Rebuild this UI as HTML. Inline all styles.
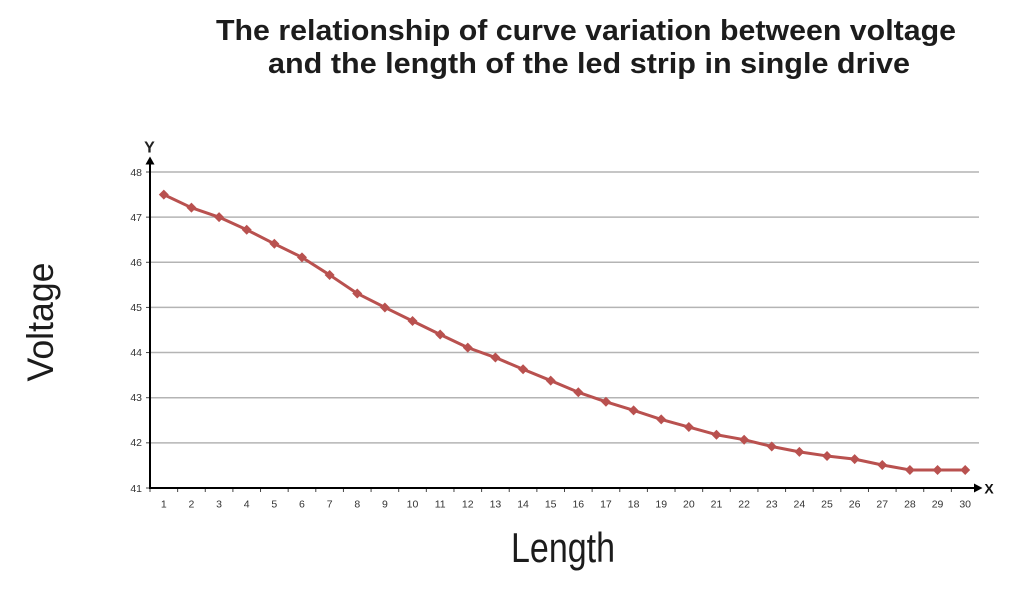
<!DOCTYPE html>
<html>
<head>
<meta charset="utf-8">
<style>
  html,body{margin:0;padding:0;background:#fff;}
  body{width:1024px;height:595px;overflow:hidden;}
  svg{display:block;}
  text{font-family:"Liberation Sans",sans-serif;}
</style>
</head>
<body>
<svg width="1024" height="595" viewBox="0 0 1024 595" xmlns="http://www.w3.org/2000/svg">
  <rect width="1024" height="595" fill="#fff"/>
  <!-- Title -->
  <text x="216" y="40" font-size="29" font-weight="bold" fill="#1c1c1c" textLength="740" lengthAdjust="spacingAndGlyphs">The relationship of curve variation between voltage</text>
  <text x="268" y="73" font-size="29" font-weight="bold" fill="#1c1c1c" textLength="642" lengthAdjust="spacingAndGlyphs">and the length of the led strip in single drive</text>

  <!-- Gridlines -->
  <g stroke="#b4b4b4" stroke-width="1.5">
    <line x1="150" y1="172" x2="979" y2="172"/>
    <line x1="150" y1="217.14" x2="979" y2="217.14"/>
    <line x1="150" y1="262.28" x2="979" y2="262.28"/>
    <line x1="150" y1="307.42" x2="979" y2="307.42"/>
    <line x1="150" y1="352.56" x2="979" y2="352.56"/>
    <line x1="150" y1="397.7" x2="979" y2="397.7"/>
    <line x1="150" y1="442.84" x2="979" y2="442.84"/>
  </g>

  <!-- Y tick marks -->
  <g stroke="#444" stroke-width="1">
    <line x1="146" y1="172" x2="150" y2="172"/>
    <line x1="146" y1="217.14" x2="150" y2="217.14"/>
    <line x1="146" y1="262.28" x2="150" y2="262.28"/>
    <line x1="146" y1="307.42" x2="150" y2="307.42"/>
    <line x1="146" y1="352.56" x2="150" y2="352.56"/>
    <line x1="146" y1="397.7" x2="150" y2="397.7"/>
    <line x1="146" y1="442.84" x2="150" y2="442.84"/>
    <line x1="146" y1="488" x2="150" y2="488"/>
  </g>

  <!-- Y tick labels -->
  <g font-size="10.5" fill="#333" text-anchor="end">
    <text x="142" y="176">48</text>
    <text x="142" y="221">47</text>
    <text x="142" y="266">46</text>
    <text x="142" y="311">45</text>
    <text x="142" y="356">44</text>
    <text x="142" y="401">43</text>
    <text x="142" y="446">42</text>
    <text x="142" y="492">41</text>
  </g>

  <!-- X tick marks -->
  <g stroke="#444" stroke-width="1">
    <line x1="150" y1="488" x2="150" y2="492"/>
    <line x1="177.63" y1="488" x2="177.63" y2="492"/>
    <line x1="205.27" y1="488" x2="205.27" y2="492"/>
    <line x1="232.9" y1="488" x2="232.9" y2="492"/>
    <line x1="260.53" y1="488" x2="260.53" y2="492"/>
    <line x1="288.17" y1="488" x2="288.17" y2="492"/>
    <line x1="315.8" y1="488" x2="315.8" y2="492"/>
    <line x1="343.43" y1="488" x2="343.43" y2="492"/>
    <line x1="371.07" y1="488" x2="371.07" y2="492"/>
    <line x1="398.7" y1="488" x2="398.7" y2="492"/>
    <line x1="426.33" y1="488" x2="426.33" y2="492"/>
    <line x1="453.97" y1="488" x2="453.97" y2="492"/>
    <line x1="481.6" y1="488" x2="481.6" y2="492"/>
    <line x1="509.23" y1="488" x2="509.23" y2="492"/>
    <line x1="536.87" y1="488" x2="536.87" y2="492"/>
    <line x1="564.5" y1="488" x2="564.5" y2="492"/>
    <line x1="592.13" y1="488" x2="592.13" y2="492"/>
    <line x1="619.77" y1="488" x2="619.77" y2="492"/>
    <line x1="647.4" y1="488" x2="647.4" y2="492"/>
    <line x1="675.03" y1="488" x2="675.03" y2="492"/>
    <line x1="702.67" y1="488" x2="702.67" y2="492"/>
    <line x1="730.3" y1="488" x2="730.3" y2="492"/>
    <line x1="757.93" y1="488" x2="757.93" y2="492"/>
    <line x1="785.57" y1="488" x2="785.57" y2="492"/>
    <line x1="813.2" y1="488" x2="813.2" y2="492"/>
    <line x1="840.83" y1="488" x2="840.83" y2="492"/>
    <line x1="868.47" y1="488" x2="868.47" y2="492"/>
    <line x1="896.1" y1="488" x2="896.1" y2="492"/>
    <line x1="923.73" y1="488" x2="923.73" y2="492"/>
    <line x1="951.37" y1="488" x2="951.37" y2="492"/>
  </g>

  <!-- X tick labels -->
  <g font-size="10.5" fill="#333" text-anchor="middle">
    <text x="163.82" y="507.5">1</text>
    <text x="191.45" y="507.5">2</text>
    <text x="219.08" y="507.5">3</text>
    <text x="246.72" y="507.5">4</text>
    <text x="274.35" y="507.5">5</text>
    <text x="301.98" y="507.5">6</text>
    <text x="329.62" y="507.5">7</text>
    <text x="357.25" y="507.5">8</text>
    <text x="384.88" y="507.5">9</text>
    <text x="412.52" y="507.5">10</text>
    <text x="440.15" y="507.5">11</text>
    <text x="467.78" y="507.5">12</text>
    <text x="495.42" y="507.5">13</text>
    <text x="523.05" y="507.5">14</text>
    <text x="550.68" y="507.5">15</text>
    <text x="578.32" y="507.5">16</text>
    <text x="605.95" y="507.5">17</text>
    <text x="633.58" y="507.5">18</text>
    <text x="661.22" y="507.5">19</text>
    <text x="688.85" y="507.5">20</text>
    <text x="716.48" y="507.5">21</text>
    <text x="744.12" y="507.5">22</text>
    <text x="771.75" y="507.5">23</text>
    <text x="799.38" y="507.5">24</text>
    <text x="827.02" y="507.5">25</text>
    <text x="854.65" y="507.5">26</text>
    <text x="882.28" y="507.5">27</text>
    <text x="909.92" y="507.5">28</text>
    <text x="937.55" y="507.5">29</text>
    <text x="965.18" y="507.5">30</text>
  </g>

  <!-- Axes -->
  <line x1="150" y1="162" x2="150" y2="489" stroke="#000" stroke-width="2"/>
  <polygon points="150,156.5 145.5,164.5 154.5,164.5" fill="#000"/>
  <line x1="149" y1="488" x2="976" y2="488" stroke="#000" stroke-width="2"/>
  <polygon points="982.5,488 974,483.5 974,492.5" fill="#000"/>
  <text x="149.5" y="152.5" font-size="16" font-weight="bold" fill="#222" text-anchor="middle">Y</text>
  <text x="989" y="493.5" font-size="14" font-weight="bold" fill="#111" text-anchor="middle">X</text>

  <!-- Series -->
  <polyline fill="none" stroke="#b9514f" stroke-width="3" stroke-linejoin="round" points="163.82,194.59 191.45,207.68 219.08,217.16 246.72,229.8 274.35,243.79 301.98,257.33 329.62,274.94 357.25,293.45 384.88,307.44 412.52,320.98 440.15,334.52 467.78,347.61 495.42,357.55 523.05,369.28 550.68,380.57 578.32,392.3 605.95,401.78 633.58,410.36 661.22,419.39 688.85,427.06 716.48,434.73 744.12,439.7 771.75,446.47 799.38,451.89 827.02,455.95 854.65,459.11 882.28,464.98 909.92,469.94 937.55,469.94 965.18,469.94"/>
  <g fill="#b9514f">
    <polygon points="163.82,189.59 168.82,194.59 163.82,199.59 158.82,194.59"/>
    <polygon points="191.45,202.68 196.45,207.68 191.45,212.68 186.45,207.68"/>
    <polygon points="219.08,212.16 224.08,217.16 219.08,222.16 214.08,217.16"/>
    <polygon points="246.72,224.8 251.72,229.8 246.72,234.8 241.72,229.8"/>
    <polygon points="274.35,238.79 279.35,243.79 274.35,248.79 269.35,243.79"/>
    <polygon points="301.98,252.33 306.98,257.33 301.98,262.33 296.98,257.33"/>
    <polygon points="329.62,269.94 334.62,274.94 329.62,279.94 324.62,274.94"/>
    <polygon points="357.25,288.45 362.25,293.45 357.25,298.45 352.25,293.45"/>
    <polygon points="384.88,302.44 389.88,307.44 384.88,312.44 379.88,307.44"/>
    <polygon points="412.52,315.98 417.52,320.98 412.52,325.98 407.52,320.98"/>
    <polygon points="440.15,329.52 445.15,334.52 440.15,339.52 435.15,334.52"/>
    <polygon points="467.78,342.61 472.78,347.61 467.78,352.61 462.78,347.61"/>
    <polygon points="495.42,352.55 500.42,357.55 495.42,362.55 490.42,357.55"/>
    <polygon points="523.05,364.28 528.05,369.28 523.05,374.28 518.05,369.28"/>
    <polygon points="550.68,375.57 555.68,380.57 550.68,385.57 545.68,380.57"/>
    <polygon points="578.32,387.3 583.32,392.3 578.32,397.3 573.32,392.3"/>
    <polygon points="605.95,396.78 610.95,401.78 605.95,406.78 600.95,401.78"/>
    <polygon points="633.58,405.36 638.58,410.36 633.58,415.36 628.58,410.36"/>
    <polygon points="661.22,414.39 666.22,419.39 661.22,424.39 656.22,419.39"/>
    <polygon points="688.85,422.06 693.85,427.06 688.85,432.06 683.85,427.06"/>
    <polygon points="716.48,429.73 721.48,434.73 716.48,439.73 711.48,434.73"/>
    <polygon points="744.12,434.7 749.12,439.7 744.12,444.7 739.12,439.7"/>
    <polygon points="771.75,441.47 776.75,446.47 771.75,451.47 766.75,446.47"/>
    <polygon points="799.38,446.89 804.38,451.89 799.38,456.89 794.38,451.89"/>
    <polygon points="827.02,450.95 832.02,455.95 827.02,460.95 822.02,455.95"/>
    <polygon points="854.65,454.11 859.65,459.11 854.65,464.11 849.65,459.11"/>
    <polygon points="882.28,459.98 887.28,464.98 882.28,469.98 877.28,464.98"/>
    <polygon points="909.92,464.94 914.92,469.94 909.92,474.94 904.92,469.94"/>
    <polygon points="937.55,464.94 942.55,469.94 937.55,474.94 932.55,469.94"/>
    <polygon points="965.18,464.94 970.18,469.94 965.18,474.94 960.18,469.94"/>
  </g>

  <!-- Axis titles -->
  <text x="563" y="562" font-size="42" fill="#1c1c1c" text-anchor="middle" textLength="104" lengthAdjust="spacingAndGlyphs">Length</text>
  <text transform="translate(53,322) rotate(-90)" x="0" y="0" font-size="37" fill="#1c1c1c" text-anchor="middle" textLength="119" lengthAdjust="spacingAndGlyphs">Voltage</text>
</svg>
</body>
</html>
